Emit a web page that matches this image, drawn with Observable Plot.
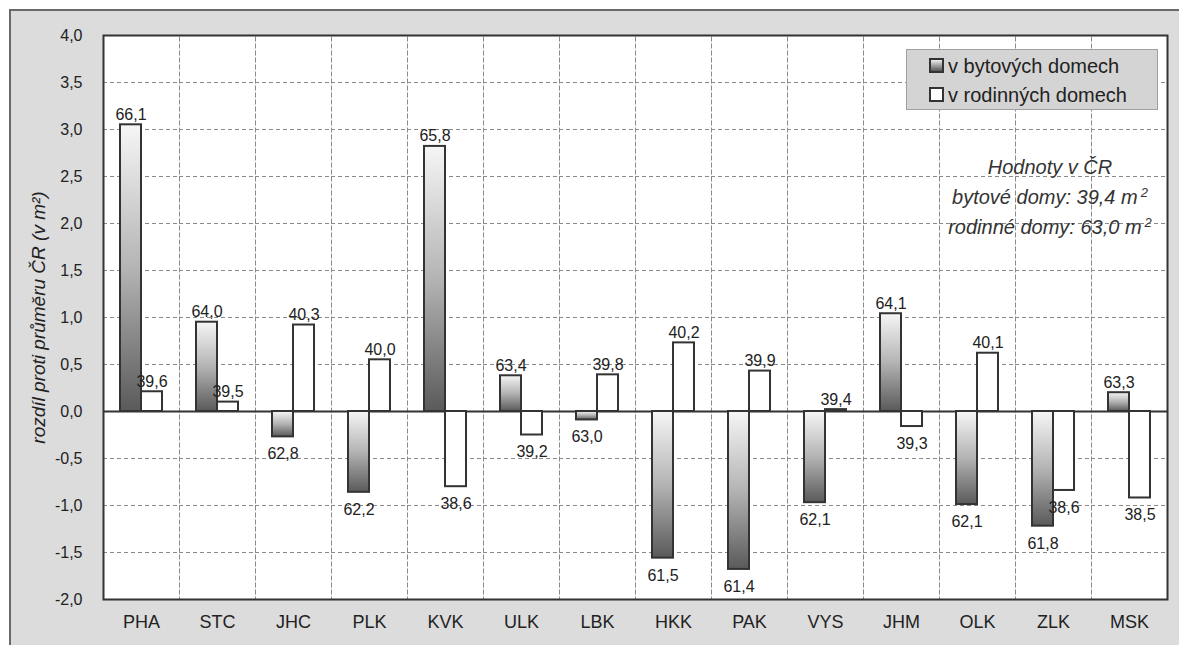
<!DOCTYPE html>
<html>
<head>
<meta charset="utf-8">
<script src="https://cdn.jsdelivr.net/npm/d3@7"></script>
<script src="https://cdn.jsdelivr.net/npm/@observablehq/plot@0.6"></script>
<style>
  body { margin: 0; background: #fff; }
  #wrap { position: relative; width: 1179px; height: 645px; overflow: hidden; font-family: "Liberation Sans", Arial, sans-serif; color: #222; }
  #panel { position: absolute; left: 9px; top: 9px; width: 1200px; height: 700px; background: #dcdcdc; border-left: 2px solid #6a6a6a; border-top: 2px solid #6a6a6a; }
  #chart { position: absolute; left: 0; top: 0; }
  #legend { position: absolute; left: 906px; top: 49px; width: 250px; height: 59px; background: #d4d4d4; border: 1px solid #a0a0a0; font-size: 20px; }
  .item { position: absolute; left: 22px; height: 24px; line-height: 24px; white-space: nowrap; }
  .sw { display: inline-block; width: 11px; height: 11px; border: 2px solid #333; vertical-align: 0px; margin-right: 4px; }
  #note { position: absolute; left: 930px; top: 152px; width: 240px; text-align: center; font-style: italic; font-size: 20px; line-height: 30px; color: #333; }
  sup { font-size: 13px; line-height: 0; vertical-align: 7px; margin-left: 3px; }
</style>
</head>
<body>
<div id="wrap">
  <div id="panel"></div>
  <div id="chart"></div>
  <div id="legend">
    <div class="item" style="top:4px"><span class="sw" style="background:linear-gradient(#eee,#555)"></span>v bytových domech</div>
    <div class="item" style="top:33px"><span class="sw" style="background:#fff"></span>v rodinných domech</div>
  </div>
  <div id="note">Hodnoty v ČR<br>bytové domy: 39,4 m<sup>2</sup><br>rodinné domy: 63,0 m<sup>2</sup></div>
</div>
<script>
const categories = ["PHA","STC","JHC","PLK","KVK","ULK","LBK","HKK","PAK","VYS","JHM","OLK","ZLK","MSK"];
const bytDiff  = [3.05, 0.95, -0.27, -0.86, 2.82, 0.38, -0.09, -1.56, -1.68, -0.97, 1.04, -0.99, -1.22, 0.20];
const bytValue = [66.1, 64.0, 62.8, 62.2, 65.8, 63.4, 63.0, 61.5, 61.4, 62.1, 64.1, 62.1, 61.8, 63.3];
const rodDiff  = [0.21, 0.10, 0.92, 0.55, -0.80, -0.25, 0.39, 0.73, 0.43, 0.02, -0.16, 0.62, -0.84, -0.92];
const rodValue = [39.6, 39.5, 40.3, 40.0, 38.6, 39.2, 39.8, 40.2, 39.9, 39.4, 39.3, 40.1, 38.6, 38.5];
const yTicks = [-2, -1.5, -1, -0.5, 0, 0.5, 1, 1.5, 2, 2.5, 3, 3.5, 4];
const seriesKeys = ["byt", "rod"];
const yTitle = "rozdíl proti průměru ČR (v m²)";

const fmt = v => d3.format(".1f")(v).replace(".", ",").replace("−", "-");

const data = categories.flatMap((c, i) => [
  {cat: c, series: "byt", diff: bytDiff[i], value: bytValue[i]},
  {cat: c, series: "rod", diff: rodDiff[i], value: rodValue[i]}
]);

const defs = () => {
  const d = d3.create("svg:defs");
  const g = d.append("linearGradient").attr("id", "barGrad")
    .attr("x1", 0).attr("y1", 0).attr("x2", 0).attr("y2", 1);
  g.append("stop").attr("offset", "0%").attr("stop-color", "#f6f6f6");
  g.append("stop").attr("offset", "50%").attr("stop-color", "#b4b4b4");
  g.append("stop").attr("offset", "100%").attr("stop-color", "#5a5a5a");
  return d.node();
};

const dash = "4,3";
const chart = Plot.plot({
  width: 1179,
  height: 645,
  marginLeft: 99,
  marginRight: 8,
  marginTop: 35,
  marginBottom: 46,
  style: {background: "transparent", fontFamily: "'Liberation Sans', Arial, sans-serif", fontSize: "16px", color: "#222"},
  fx: {domain: categories, padding: 0, label: null},
  x: {domain: seriesKeys, paddingInner: 0, paddingOuter: 0.74, axis: null},
  y: {domain: [-2, 4]},
  marks: [
    defs,
    Plot.frame({fill: "white"}),
    Plot.gridY(yTicks, {stroke: "#8a8a8a", strokeOpacity: 1, strokeDasharray: dash}),
    Plot.frame({stroke: "#8a8a8a", strokeDasharray: dash}),
    Plot.ruleY([0], {stroke: "#333", strokeWidth: 2}),
    Plot.barY(data.filter(d => d.series === "byt"), {fx: "cat", x: "series", y: "diff", fill: "url(#barGrad)", stroke: "#333", strokeWidth: 2}),
    Plot.barY(data.filter(d => d.series === "rod"), {fx: "cat", x: "series", y: "diff", fill: "white", stroke: "#333", strokeWidth: 2}),
    Plot.text(data.filter(d => d.diff >= 0), {fx: "cat", x: "series", y: "diff", text: d => fmt(d.value), lineAnchor: "bottom", dy: -5, fontSize: 16, fill: "#222"}),
    Plot.text(data.filter(d => d.diff < 0), {fx: "cat", x: "series", y: "diff", text: d => fmt(d.value), lineAnchor: "top", dy: 11, fontSize: 16, fill: "#222"}),
    Plot.axisY({ticks: yTicks, tickFormat: fmt, tickSize: 0, tickPadding: 16, dx: -5, fontSize: 16, label: null, fill: "#222"}),
    Plot.axisY({ticks: [], label: yTitle, labelAnchor: "center", labelArrow: "none", labelOffset: 72, fontStyle: "italic", fontSize: 19}),
    Plot.axisFx({anchor: "bottom", tickSize: 0, tickPadding: 16, fontSize: 18, label: null}),
    Plot.frame({stroke: "#333", strokeWidth: 2, facet: "super"})
  ]
});
document.getElementById("chart").appendChild(chart);
</script>
</body>
</html>
